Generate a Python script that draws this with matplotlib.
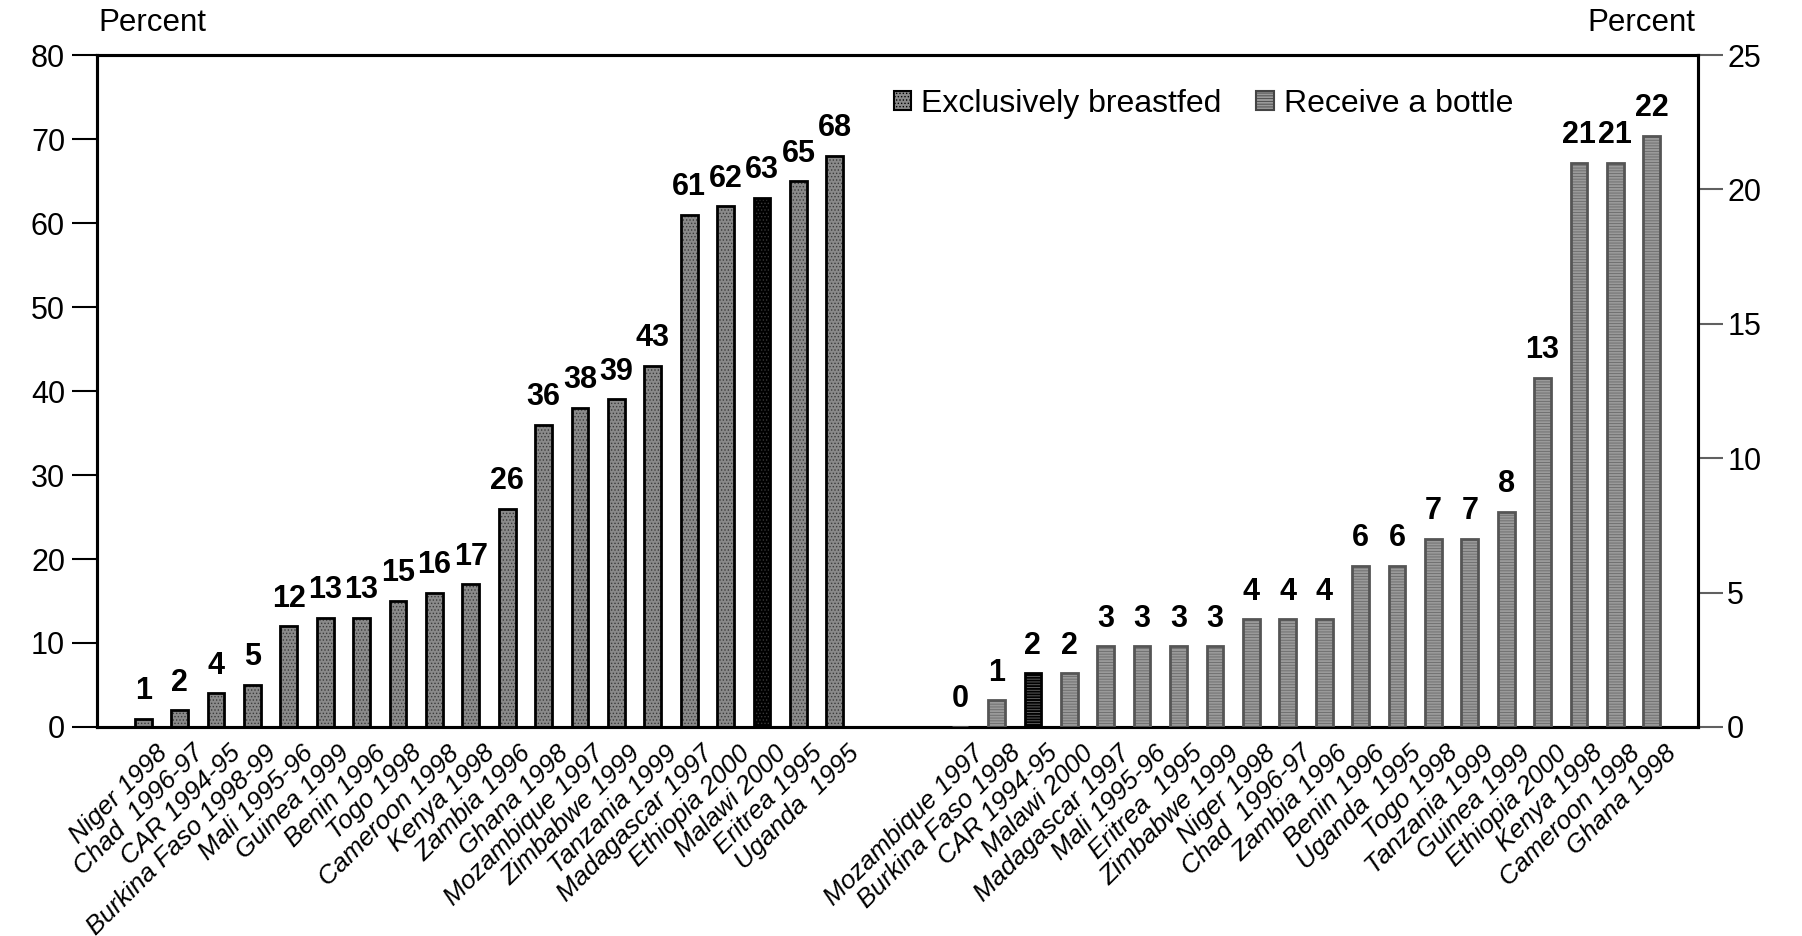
import numpy as np
import matplotlib as mp
import matplotlib.pyplot as pp
import matplotlib.transforms as mt
from matplotlib.patches import Patch

mp.rcParams.update({
    'font.family': ['Liberation Sans', 'DejaVu Sans'],
    'font.size': 22,
    'hatch.linewidth': 0.6,
})

# left group: exclusively breastfed (left axis, percent)
bf_labels = ['Niger 1998', 'Chad  1996-97', 'CAR 1994-95', 'Burkina Faso 1998-99',
             'Mali 1995-96', 'Guinea 1999', 'Benin 1996', 'Togo 1998', 'Cameroon 1998',
             'Kenya 1998', 'Zambia 1996', 'Ghana 1998', 'Mozambique 1997', 'Zimbabwe 1999',
             'Tanzania 1999', 'Madagascar 1997', 'Ethiopia 2000', 'Malawi 2000',
             'Eritrea 1995', 'Uganda  1995']
bf_values = [1, 2, 4, 5, 12, 13, 13, 15, 16, 17, 26, 36, 38, 39, 43, 61, 62, 63, 65, 68]

# right group: receive a bottle (right axis, percent)
bt_labels = ['Mozambique 1997', 'Burkina Faso 1998', 'CAR 1994-95', 'Malawi 2000',
             'Madagascar 1997', 'Mali 1995-96', 'Eritrea  1995', 'Zimbabwe 1999',
             'Niger 1998', 'Chad  1996-97', 'Zambia 1996', 'Benin 1996', 'Uganda  1995',
             'Togo 1998', 'Tanzania 1999', 'Guinea 1999', 'Ethiopia 2000', 'Kenya 1998',
             'Cameroon 1998', 'Ghana 1998']
bt_values = [0, 1, 2, 2, 3, 3, 3, 3, 4, 4, 4, 6, 6, 7, 7, 8, 13, 21, 21, 22]

highlight_bf = 'Malawi 2000'
highlight_bt = 'CAR 1994-95'

gap = 3.44
w = 0.46
xl = np.arange(len(bf_values))
xr = np.arange(len(bt_values)) + len(bf_values) - 1 + gap

fig = pp.figure(figsize=(18.02, 9.36), dpi=100)
ax = fig.add_axes([0.0538, 0.2233, 0.8885, 0.7179])
ax2 = ax.twinx()

# left bars
bf_fc = ['black' if l == highlight_bf else '#8a8a8a' for l in bf_labels]
ax.bar(xl, bf_values, width=w, color=bf_fc, edgecolor='#3a3a3a', hatch='.....', lw=0, zorder=2)
ax.bar(xl, bf_values, width=w, fill=False, edgecolor='black', lw=2.0, zorder=3)

# right bars
bt_fc = ['black' if l == highlight_bt else '#9a9a9a' for l in bt_labels]
bt_ec = ['black' if l == highlight_bt else '#555555' for l in bt_labels]
ax2.bar(xr, bt_values, width=w, color=bt_fc, edgecolor='#6a6a6a', hatch='------', lw=0, zorder=2)
ax2.bar(xr, bt_values, width=w, fill=False, edgecolor=bt_ec, lw=2.0, zorder=3)

for x, v in zip(xl, bf_values):
    ax.annotate(str(v), (x, v), xytext=(0, 9), textcoords='offset points',
                ha='center', va='bottom', fontweight='bold', fontsize=22)
for x, v in zip(xr, bt_values):
    ax2.annotate(str(v), (x, v), xytext=(0, 9), textcoords='offset points',
                 ha='center', va='bottom', fontweight='bold', fontsize=22)

ax.set_xlim(-1.27, xr[-1] + 1.27)
ax.set_ylim(0, 80)
ax2.set_ylim(0, 25)
ax.set_yticks(np.arange(0, 81, 10))
ax2.set_yticks(np.arange(0, 26, 5))

ax.set_xticks(np.concatenate([xl, xr]))
ax.set_xticklabels(bf_labels + bt_labels, rotation=45, ha='right', va='top',
                   rotation_mode='anchor', fontstyle='italic', fontsize=18.8)
ax.tick_params(axis='x', length=0, pad=10)
shift = mt.ScaledTranslation(12 / 100, 0, fig.dpi_scale_trans)
for t in ax.get_xticklabels():
    t.set_transform(t.get_transform() + shift)

ax.tick_params(axis='y', direction='out', length=18, width=1.5, pad=5, labelsize=22)
ax2.tick_params(axis='y', direction='out', length=18, width=1.5, pad=3, labelsize=22,
                color='#606060')

for a in (ax, ax2):
    for s in a.spines.values():
        s.set_linewidth(2.2)
        s.set_color('black')

fig.text(0.0845, 0.975, 'Percent', ha='center', va='center', fontsize=22.5)
fig.text(0.911, 0.975, 'Percent', ha='center', va='center', fontsize=22.5)

handles = [Patch(facecolor='#8a8a8a', edgecolor='black', hatch='.....', lw=1.5),
           Patch(facecolor='#9a9a9a', edgecolor='#444444', hatch='------', lw=1.5)]
ax2.legend(handles, ['Exclusively breastfed', 'Receive a bottle'], ncol=2, frameon=False,
           loc='center left', bbox_to_anchor=(0.496, 0.889), bbox_transform=fig.transFigure,
           borderaxespad=0, borderpad=0, handlelength=0.55, handleheight=0.55,
           handletextpad=0.3, columnspacing=1.1, fontsize=23)

fig.savefig('out.png', dpi=100)
